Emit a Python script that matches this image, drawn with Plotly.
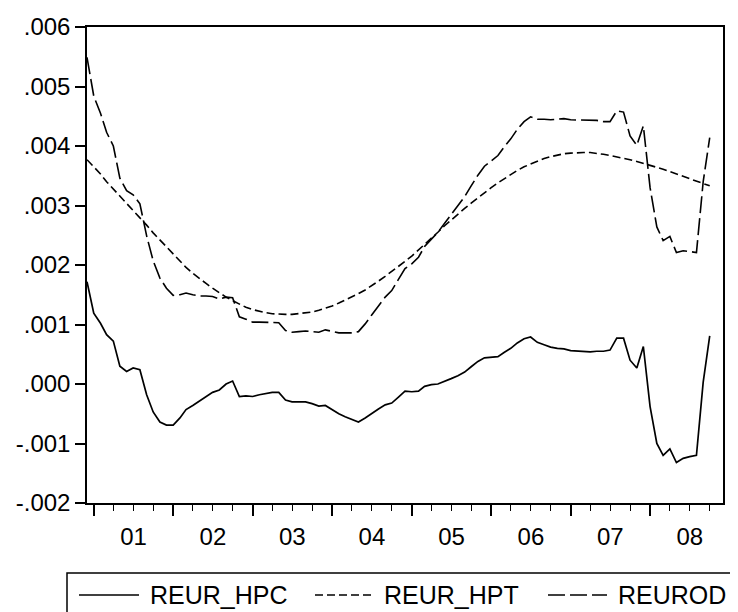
import pandas as pd
import plotly.graph_objects as go

# Monthly observations, 2000M12 .. 2008M10
start_month = "2000-12-01"

reur_hpc = [
    0.00172, 0.00119, 0.00102, 0.00083, 0.00072, 0.00030, 0.00021, 0.00027, 0.00024, -0.00018, -0.00047, -0.00064,
    -0.00069, -0.00069, -0.00057, -0.00043, -0.00036, -0.00029, -0.00021, -0.00014, -0.00010, 0.00000, 0.00005, -0.00021,
    -0.00020, -0.00021, -0.00018, -0.00016, -0.00014, -0.00014, -0.00027, -0.00030, -0.00030, -0.00030, -0.00033, -0.00037,
    -0.00036, -0.00043, -0.00050, -0.00055, -0.00060, -0.00064, -0.00057, -0.00049, -0.00042, -0.00035, -0.00032, -0.00022,
    -0.00012, -0.00013, -0.00012, -0.00004, -0.00001, 0.00000, 0.00004, 0.00009, 0.00014, 0.00020, 0.00029, 0.00038,
    0.00044, 0.00045, 0.00046, 0.00053, 0.00060, 0.00069, 0.00076, 0.00079, 0.00070, 0.00066, 0.00062, 0.00060,
    0.00059, 0.00056, 0.00055, 0.00054, 0.00054, 0.00055, 0.00055, 0.00057, 0.00077, 0.00077, 0.00040, 0.00027,
    0.00063, -0.00038, -0.00100, -0.00120, -0.00109, -0.00132, -0.00125, -0.00122, -0.00120, 0.00003, 0.00081,
]

reur_hpt = [
    0.00377, 0.00365, 0.00353, 0.00340, 0.00328, 0.00316, 0.00304, 0.00291, 0.00279, 0.00267, 0.00254, 0.00242,
    0.00230, 0.00218, 0.00207, 0.00196, 0.00186, 0.00177, 0.00169, 0.00161, 0.00153, 0.00146, 0.00140, 0.00134,
    0.00129, 0.00125, 0.00122, 0.00120, 0.00118, 0.00117, 0.00117, 0.00117, 0.00118, 0.00119, 0.00121, 0.00124,
    0.00127, 0.00131, 0.00136, 0.00141, 0.00146, 0.00152, 0.00158, 0.00165, 0.00173, 0.00181, 0.00189, 0.00197,
    0.00206, 0.00215, 0.00225, 0.00235, 0.00245, 0.00255, 0.00266, 0.00276, 0.00286, 0.00295, 0.00304, 0.00313,
    0.00322, 0.00330, 0.00338, 0.00345, 0.00352, 0.00359, 0.00365, 0.00370, 0.00375, 0.00379, 0.00382, 0.00385,
    0.00387, 0.00388, 0.00389, 0.00389, 0.00389, 0.00388, 0.00386, 0.00384, 0.00382, 0.00380, 0.00377, 0.00374,
    0.00371, 0.00368, 0.00364, 0.00361, 0.00357, 0.00353, 0.00349, 0.00345, 0.00341, 0.00337, 0.00333,
]

reurod = [
    0.00549, 0.00484, 0.00455, 0.00423, 0.00400, 0.00346, 0.00325, 0.00318, 0.00303, 0.00249, 0.00207, 0.00178,
    0.00161, 0.00149, 0.00150, 0.00153, 0.00150, 0.00148, 0.00148, 0.00147, 0.00143, 0.00146, 0.00145, 0.00113,
    0.00109, 0.00104, 0.00104, 0.00104, 0.00104, 0.00103, 0.00090, 0.00087, 0.00088, 0.00089, 0.00088, 0.00087,
    0.00091, 0.00088, 0.00086, 0.00086, 0.00086, 0.00088, 0.00101, 0.00116, 0.00131, 0.00146, 0.00157, 0.00175,
    0.00194, 0.00202, 0.00213, 0.00231, 0.00244, 0.00255, 0.00270, 0.00285, 0.00300, 0.00315, 0.00333, 0.00351,
    0.00366, 0.00375, 0.00384, 0.00398, 0.00412, 0.00428, 0.00441, 0.00449, 0.00445, 0.00445, 0.00444, 0.00445,
    0.00446, 0.00444, 0.00444, 0.00443, 0.00443, 0.00443, 0.00441, 0.00441, 0.00459, 0.00457, 0.00417, 0.00401,
    0.00434, 0.00330, 0.00264, 0.00241, 0.00248, 0.00221, 0.00224, 0.00223, 0.00221, 0.00340, 0.00414,
]

y_tick_values = [-0.002, -0.001, 0.000, 0.001, 0.002, 0.003, 0.004, 0.005, 0.006]
y_tick_labels = ["-.002", "-.001", ".000", ".001", ".002", ".003", ".004", ".005", ".006"]

series_names = ["REUR_HPC", "REUR_HPT", "REUROD"]

dates = pd.date_range(start_month, periods=len(reur_hpc), freq="MS")

FONT = "Liberation Sans, Arial, sans-serif"
OFF = 8  # default page body margin offsets the figure by 8px
PAGE_W, PAGE_H = 738, 612
W, H = PAGE_W - OFF, PAGE_H - OFF
# plot area in page pixels: x 87..723, y 27..503
L, R, T, B = 87 - OFF, 15, 27 - OFF, 109
PW, PH = W - L - R, H - T - B


def px_x(x):  # page pixel -> paper
    return (x - OFF - L) / PW


def px_y(y):
    return (H - B - (y - OFF)) / PH


fig = go.Figure()
fig.add_trace(go.Scatter(x=dates, y=reur_hpc, mode="lines", name=series_names[0],
                         line=dict(color="black", width=1.7), showlegend=False))
fig.add_trace(go.Scatter(x=dates, y=reur_hpt, mode="lines", name=series_names[1],
                         line=dict(color="black", width=1.6, dash="8px,4px"), showlegend=False))
fig.add_trace(go.Scatter(x=dates, y=reurod, mode="lines", name=series_names[2],
                         line=dict(color="black", width=1.6, dash="17px,5px"), showlegend=False))

fig.update_xaxes(
    type="date",
    range=["2000-12-01", "2008-12-01"],
    dtick="M12", tick0="2001-01-01", tickformat="%y",
    ticklabelmode="period",
    ticks="outside", ticklen=11, tickwidth=1.5, tickcolor="black",
    minor=dict(dtick="M3", tick0="2001-01-01", ticks="outside", ticklen=6,
               tickwidth=1.2, tickcolor="black", showgrid=False),
    showline=True, linecolor="black", linewidth=1.5, mirror=True,
    showgrid=False, zeroline=False,
    tickfont=dict(family=FONT, size=24, color="black"),
)
fig.update_yaxes(
    range=[-0.002, 0.006],
    tickmode="array", tickvals=y_tick_values, ticktext=y_tick_labels,
    ticks="outside", ticklen=10, tickwidth=1.5, tickcolor="black",
    showline=True, linecolor="black", linewidth=1.5, mirror=True,
    showgrid=False, zeroline=False,
    tickfont=dict(family=FONT, size=24, color="black"),
)

# Legend box (EViews style, running past the right and bottom edges)
shapes = [dict(type="rect", xref="paper", yref="paper",
               x0=px_x(67), x1=px_x(780), y0=px_y(573), y1=px_y(660),
               line=dict(color="black", width=1.5), fillcolor="rgba(0,0,0,0)")]
legend_items = [
    (series_names[0], 79, 139, 148, "solid"),
    (series_names[1], 315, 373, 382, "8px,4px"),
    (series_names[2], 548, 607, 616, "17px,5px"),
]
annotations = []
ly = 595
for name, x0, x1, tx, dash in legend_items:
    shapes.append(dict(type="line", xref="paper", yref="paper",
                       x0=px_x(x0), x1=px_x(x1), y0=px_y(ly), y1=px_y(ly),
                       line=dict(color="black", width=1.6, dash=dash)))
    annotations.append(dict(xref="paper", yref="paper", x=px_x(tx), y=px_y(ly),
                            xanchor="left", yanchor="middle", showarrow=False,
                            text=name, font=dict(family=FONT, size=25, color="black")))

fig.update_layout(
    width=W, height=H,
    margin=dict(l=L, r=R, t=T, b=B, autoexpand=False),
    paper_bgcolor="white", plot_bgcolor="white",
    shapes=shapes, annotations=annotations,
    showlegend=False,
)

fig.write_html("out.html")
